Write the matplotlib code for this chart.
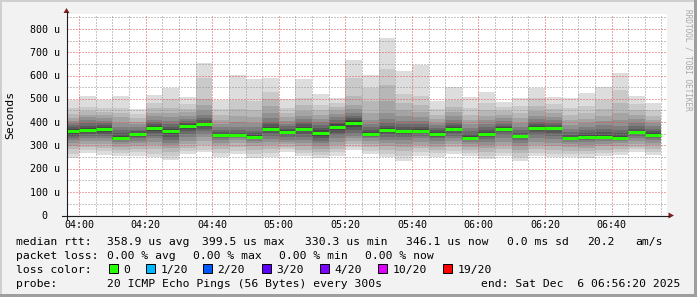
import numpy as np
import matplotlib.pyplot as plt
from matplotlib.patches import Rectangle, Polygon
from matplotlib.lines import Line2D
from matplotlib import transforms

W, H = 697, 297
MONO = "DejaVu Sans Mono"

# one smoke bar per 5 minute step, minutes relative to 04:00 (first one is cut)
bar_start = np.arange(-5, 175, 5)

# median rtt per step (us), drawn as the green line
median_us = [361, 365, 370, 331, 347, 373, 363, 383, 391, 343, 343, 338,
             369, 357, 371, 354, 380, 398, 351, 367, 360, 364, 350, 371,
             333, 347, 371, 340, 376, 373, 333, 337, 337, 333, 356, 346]

# the 20 sorted pings of every step (us)
pings_us = [
    [244, 262, 285, 298, 310, 322, 332, 341, 350, 358, 364, 370, 378, 387, 395, 404, 416, 436, 460, 497],
    [268, 282, 295, 308, 320, 332, 342, 350, 357, 362, 368, 375, 384, 395, 408, 420, 432, 448, 466, 511],
    [258, 275, 290, 305, 318, 330, 340, 350, 358, 366, 373, 380, 388, 396, 405, 418, 430, 445, 462, 497],
    [254, 268, 282, 295, 305, 315, 322, 326, 329, 330, 332, 340, 352, 366, 380, 398, 420, 440, 462, 510],
    [254, 270, 285, 298, 310, 320, 330, 337, 342, 345, 349, 354, 360, 368, 378, 390, 402, 418, 435, 456],
    [251, 262, 285, 300, 315, 330, 342, 352, 362, 370, 376, 382, 390, 400, 410, 425, 440, 460, 480, 516],
    [237, 255, 270, 288, 300, 312, 325, 338, 350, 360, 366, 372, 380, 390, 404, 420, 440, 460, 500, 547],
    [263, 275, 290, 305, 320, 335, 348, 360, 370, 378, 387, 392, 398, 405, 415, 428, 442, 458, 478, 507],
    [273, 282, 300, 318, 335, 350, 362, 372, 382, 388, 394, 400, 408, 418, 430, 450, 475, 500, 590, 653],
    [251, 268, 285, 300, 312, 322, 330, 336, 340, 342, 344, 348, 356, 366, 378, 392, 410, 432, 458, 494],
    [263, 278, 295, 310, 322, 330, 336, 340, 342, 343, 344, 348, 355, 365, 380, 400, 425, 455, 495, 603],
    [244, 262, 280, 296, 310, 320, 328, 333, 336, 337, 339, 344, 352, 362, 378, 398, 420, 450, 490, 584],
    [250, 268, 285, 300, 315, 328, 340, 352, 360, 366, 372, 380, 390, 402, 418, 440, 468, 500, 530, 588],
    [273, 285, 295, 305, 315, 325, 335, 343, 350, 355, 359, 365, 372, 382, 393, 405, 420, 440, 462, 498],
    [254, 268, 282, 298, 312, 325, 338, 350, 360, 367, 373, 380, 390, 400, 412, 428, 448, 475, 505, 584],
    [244, 258, 272, 285, 298, 310, 320, 330, 340, 350, 358, 366, 376, 388, 400, 414, 430, 450, 475, 519],
    [254, 270, 285, 300, 315, 330, 343, 355, 366, 375, 384, 390, 398, 408, 420, 435, 450, 466, 482, 505],
    [280, 292, 305, 318, 330, 342, 355, 368, 380, 392, 403, 410, 418, 428, 440, 455, 475, 510, 590, 665],
    [262, 278, 292, 305, 318, 330, 338, 344, 348, 350, 353, 358, 366, 378, 392, 410, 440, 490, 545, 603],
    [251, 265, 282, 298, 312, 325, 338, 350, 360, 365, 369, 375, 385, 398, 412, 440, 490, 560, 626, 761],
    [234, 255, 275, 292, 308, 322, 335, 345, 352, 358, 362, 368, 378, 390, 405, 425, 450, 480, 520, 620],
    [256, 272, 288, 302, 316, 330, 342, 352, 358, 362, 366, 372, 380, 392, 405, 422, 445, 475, 510, 647],
    [251, 266, 280, 295, 308, 320, 330, 338, 344, 348, 352, 358, 365, 375, 386, 398, 412, 432, 455, 491],
    [265, 278, 292, 305, 318, 330, 342, 352, 362, 368, 373, 380, 388, 398, 410, 425, 442, 465, 495, 550],
    [255, 268, 282, 294, 305, 315, 322, 328, 331, 332, 334, 340, 350, 362, 376, 392, 410, 432, 462, 507],
    [240, 256, 272, 288, 302, 315, 326, 335, 341, 345, 349, 356, 366, 378, 392, 408, 426, 450, 480, 528],
    [254, 268, 284, 300, 315, 330, 345, 356, 364, 369, 373, 378, 385, 394, 404, 416, 430, 448, 466, 486],
    [234, 250, 266, 282, 296, 310, 322, 331, 336, 339, 341, 346, 355, 366, 380, 396, 416, 440, 468, 502],
    [254, 268, 284, 300, 316, 332, 346, 358, 368, 374, 378, 384, 392, 402, 414, 428, 446, 470, 505, 547],
    [251, 265, 280, 296, 312, 328, 342, 355, 365, 371, 375, 380, 388, 398, 410, 424, 440, 458, 478, 507],
    [250, 264, 278, 292, 305, 316, 324, 329, 332, 333, 334, 338, 346, 358, 372, 388, 408, 432, 462, 502],
    [248, 262, 276, 290, 302, 314, 324, 331, 335, 336, 338, 344, 354, 366, 380, 396, 414, 438, 470, 524],
    [254, 268, 282, 296, 308, 320, 328, 333, 336, 337, 338, 346, 358, 372, 388, 405, 425, 455, 495, 550],
    [258, 272, 286, 298, 310, 320, 327, 331, 333, 333, 334, 340, 352, 366, 385, 410, 440, 480, 540, 613],
    [273, 284, 295, 306, 318, 330, 340, 348, 353, 355, 357, 362, 372, 384, 398, 412, 430, 450, 476, 511],
    [258, 272, 286, 300, 312, 322, 332, 339, 343, 345, 347, 352, 360, 370, 382, 395, 410, 428, 452, 483],
]

time_ticks = [0, 20, 40, 60, 80, 100, 120, 140, 160]
time_labels = ["04:00", "04:20", "04:40", "05:00", "05:20", "05:40", "06:00", "06:20", "06:40"]
y_ticks = [0, 100, 200, 300, 400, 500, 600, 700, 800]

loss_labels = ["0", "1/20", "2/20", "3/20", "4/20", "10/20", "19/20"]
loss_colors = ["#26ff00", "#00b8ff", "#0059ff", "#5e00ff", "#7e00ff", "#dd00ff", "#ff0000"]


def fx(x):
    return x / W


def fy(y):
    return 1 - y / H


fig = plt.figure(figsize=(W / 100, H / 100), dpi=100, facecolor="#f2f2f2")
ax = fig.add_axes([fx(67), fy(215.3), 600 / W, (215.3 - 13.8) / H])
ax.set_facecolor("white")
ax.set_xlim(-11 / 3, 176.67)
ax.set_ylim(0, 865)
for s in ax.spines.values():
    s.set_visible(False)

# smoke: outer pair of pings lightest, inner pairs darker
p = np.array(pings_us)
for i in range(10):
    g = int(190 / 10 * (10 - (i + 1))) + 50
    col = "#%02x%02x%02x" % (g, g, g)
    ax.bar(bar_start, p[:, 19 - i] - p[:, i], bottom=p[:, i], width=5, align="edge",
           color=col, linewidth=0, antialiased=False, zorder=1)

ax.hlines(median_us, bar_start, bar_start + 5, colors="#26ff00", linewidth=2.2, zorder=4)

# grid (rrdtool draws it over the areas), dotted
ax.set_xticks(time_ticks)
ax.set_xticks(np.arange(0, 180, 5), minor=True)
ax.set_yticks(y_ticks)
ax.set_yticks(np.arange(50, 865, 100), minor=True)
ax.set_axisbelow(False)
ax.grid(which="major", color=(0.87, 0.31, 0.31, 0.55), linestyle=(0, (1, 2)), linewidth=0.72)
ax.grid(which="minor", color=(0.56, 0.56, 0.56, 0.55), linestyle=(0, (1, 2)), linewidth=0.72)
ax.tick_params(which="both", length=0, labelbottom=False, labelleft=False)

# tick labels
tx = transforms.blended_transform_factory(ax.transData, fig.transFigure)
for t, lab in zip(time_ticks, time_labels):
    ax.text(t, fy(227.8), lab, transform=tx, ha="center", va="baseline",
            fontsize=7.2, family=MONO, color="black")
ty = transforms.offset_copy(transforms.blended_transform_factory(fig.transFigure, ax.transData),
                            fig=fig, y=-3.6, units="dots")
for v in y_ticks:
    if v == 0:
        ax.text(fx(47.5), v, "0", transform=ty, ha="right", va="baseline",
                fontsize=7.2, family=MONO)
    else:
        ax.text(fx(59.5), v, f"{v} u", transform=ty, ha="right", va="baseline",
                fontsize=7.2, family=MONO)

# axes and arrows
axis_col = (0.12, 0.12, 0.12)
arrow_col = (0.5, 0.12, 0.12)
fig.add_artist(Line2D([fx(66.5), fx(66.5)], [fy(219), fy(12)], color=axis_col, lw=0.8))
fig.add_artist(Line2D([fx(62), fx(669)], [fy(215.5), fy(215.5)], color=axis_col, lw=0.8))
fig.add_artist(Polygon([[fx(66.5), fy(8)], [fx(63.5), fy(13)], [fx(69.5), fy(13)]],
                       closed=True, color=arrow_col, lw=0))
fig.add_artist(Polygon([[fx(674), fy(215.5)], [fx(668.5), fy(212.5)], [fx(668.5), fy(218.5)]],
                       closed=True, color=arrow_col, lw=0))

fig.text(fx(10.5), fy(114.5), "Seconds", rotation=90, ha="center", va="center",
         fontsize=8.2, family=MONO)
fig.text(fx(688), fy(60), "RRDTOOL / TOBI OETIKER", rotation=270, ha="center", va="center",
         fontsize=5.6, family=MONO, color="#a8a8a8")

# legend
fs = 8.2
line1 = [(16, "median rtt:"), (107, "358.9 us avg"), (202, "399.5 us max"),
         (305, "330.3 us min"), (406, "346.1 us now"), (507, "0.0 ms sd"),
         (587, "20.2"), (635, "am/s")]
line2 = [(16, "packet loss:"), (107, "0.00 % avg"), (193, "0.00 % max"),
         (279, "0.00 % min"), (365, "0.00 % now")]
for x, s in line1:
    fig.text(fx(x), fy(245), s, fontsize=fs, family=MONO, va="baseline")
for x, s in line2:
    fig.text(fx(x), fy(259), s, fontsize=fs, family=MONO, va="baseline")

fig.text(fx(16), fy(273), "loss color:", fontsize=fs, family=MONO, va="baseline")
box_x = [109, 146, 203, 262, 320, 378, 443]
for bx, lab, c in zip(box_x, loss_labels, loss_colors):
    fig.add_artist(Rectangle((fx(bx), fy(273)), 8.7 / W, 8.7 / H, transform=fig.transFigure,
                             facecolor=c, edgecolor="black", lw=0.7))
    fig.text(fx(bx + 14.5), fy(273), lab, fontsize=fs, family=MONO, va="baseline")

fig.text(fx(16), fy(287), "probe:", fontsize=fs, family=MONO, va="baseline")
fig.text(fx(107), fy(287), "20 ICMP Echo Pings (56 Bytes) every 300s",
         fontsize=fs, family=MONO, va="baseline")
fig.text(fx(680), fy(287), "end: Sat Dec  6 06:56:20 2025", fontsize=fs, family=MONO,
         va="baseline", ha="right")

# 3d frame
fig.add_artist(Rectangle((0, fy(2)), 1, 2 / H, transform=fig.transFigure, color="#cfcfcf", lw=0))
fig.add_artist(Rectangle((0, 0), 2 / W, 1, transform=fig.transFigure, color="#cfcfcf", lw=0))
fig.add_artist(Rectangle((0, 0), 1, 3 / H, transform=fig.transFigure, color="#9e9e9e", lw=0))
fig.add_artist(Rectangle((fx(W - 3), 0), 3 / W, 1, transform=fig.transFigure, color="#9e9e9e", lw=0))

fig.savefig("out.png", dpi=100, facecolor=fig.get_facecolor())
